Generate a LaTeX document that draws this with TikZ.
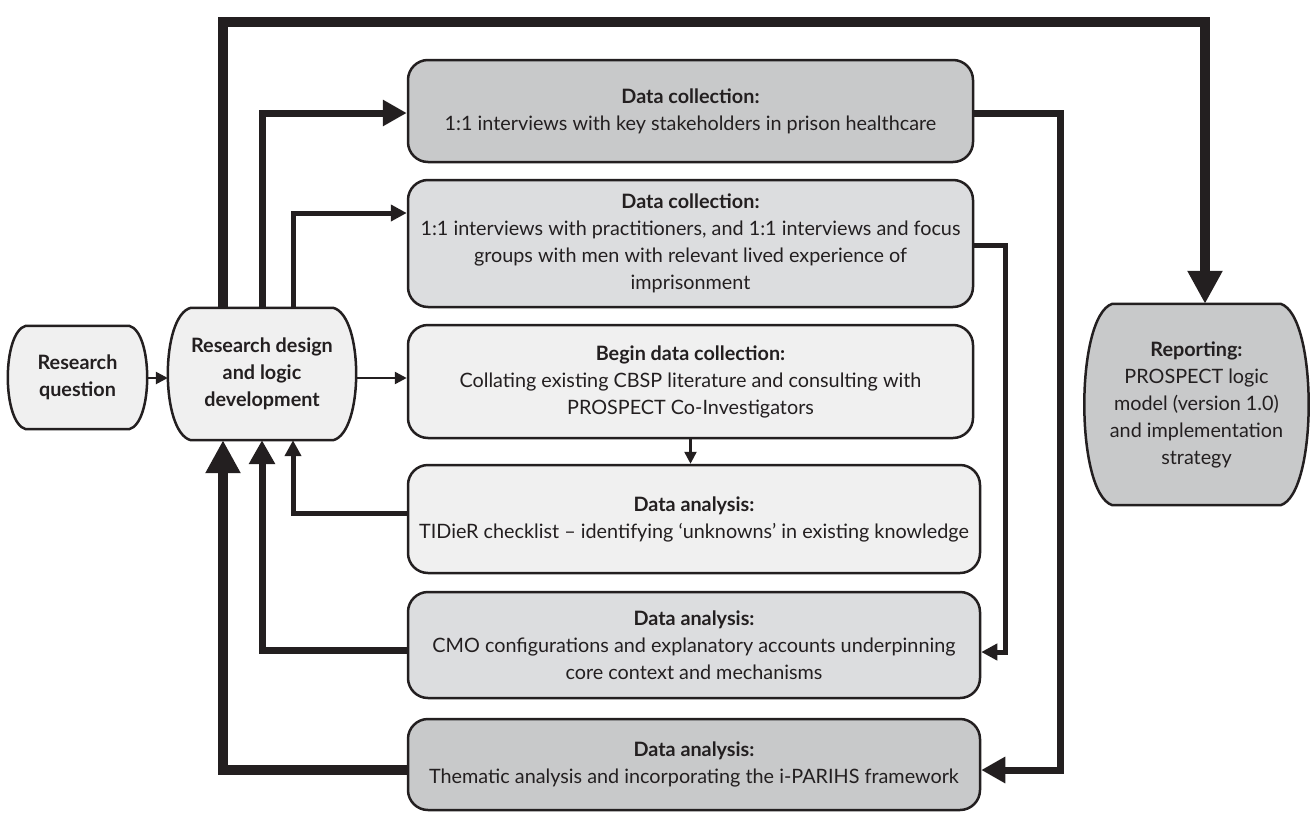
\documentclass[tikz,border=0pt]{standalone}
\usepackage{fontspec}
\setmainfont{Lato}
\usetikzlibrary{arrows.meta,calc,backgrounds}
\definecolor{ink}{HTML}{231F20}
\definecolor{gA}{HTML}{F0F0F0}
\definecolor{gB}{HTML}{DCDDDF}
\definecolor{gC}{HTML}{C8C9CA}
% pill outline drawn round a named node: #1 node, #2 bulge, #3 fill
\newcommand\pillpath[3]{%
  \path[draw=ink, line width=2.5pt, fill=#3, line join=round]
    ($(#1.north west)+({#2+6},0)$) -- ($(#1.north east)+({-#2-6},0)$)
    .. controls ($(#1.north east)!0.06!(#1.south east)+({(#2+6)/3},0)$) and ($(#1.south east)!0.06!(#1.north east)+({(#2+6)/3},0)$) .. ($(#1.south east)+({-#2-6},0)$)
    -- ($(#1.south west)+({#2+6},0)$)
    .. controls ($(#1.south west)!0.06!(#1.north west)+({-(#2+6)/3},0)$) and ($(#1.north west)!0.06!(#1.south west)+({-(#2+6)/3},0)$) .. cycle;}
\begin{document}
\begin{tikzpicture}[x=1pt,y=-1pt, font=\fontsize{19.8}{27}\selectfont, text=ink,
  box/.style={draw=ink, line width=2.5pt, rounded corners=20pt, align=center, inner sep=0pt, minimum width=565pt},
  pill/.style={rectangle, align=center, inner sep=0pt},
  fbA/.style={draw=ink, line width=10pt, -{Triangle[length=33pt,width=33pt]}},
  fbB/.style={draw=ink, line width=7pt, -{Triangle[length=24pt,width=25pt]}},
  fbC/.style={draw=ink, line width=5pt, -{Triangle[length=16pt,width=16pt]}},
  fine/.style={draw=ink, line width=2.5pt, -{Triangle[length=12pt,width=12pt]}}]
\useasboundingbox (0,0) rectangle (1310,817);

% left column
\node[pill, minimum width=139pt, minimum height=103pt] (rq) at (77.5,377.5) {\textbf{Research}\\\textbf{question}};
\node[pill, minimum width=188pt, minimum height=132pt] (rd) at (262,374) {\textbf{Research design}\\\textbf{and logic}\\\textbf{development}};

% middle column
\node[box, fill=gC, minimum height=102pt] (b1) at (690.5,111)
  {\textbf{Data collection:}\\1:1 interviews with key stakeholders in prison healthcare};
\node[box, fill=gB, minimum height=127pt] (b2) at (690.5,243.5)
  {\textbf{Data collection:}\\1:1 interviews with practitioners, and 1:1 interviews and focus\\groups with men with relevant lived experience of\\imprisonment};
\node[box, fill=gA, minimum height=113pt] (b3) at (690.5,381.5)
  {\textbf{Begin data collection:}\\Collating existing CBSP literature and consulting with\\PROSPECT Co-Investigators};
\node[box, fill=gA, minimum width=572pt, minimum height=108pt] (b4) at (694,519)
  {\textbf{Data analysis:}\\TIDieR checklist -- identifying `unknowns' in existing knowledge};
\node[box, fill=gB, minimum width=572pt, minimum height=106pt] (b5) at (694,645)
  {\textbf{Data analysis:}\\CMO configurations and explanatory accounts underpinning\\core context and mechanisms};
\node[box, fill=gC, minimum width=572pt, minimum height=91pt] (b6) at (694,764.5)
  {\textbf{Data analysis:}\\Thematic analysis and incorporating the i-PARIHS framework};

% right
\node[pill, minimum width=224pt, minimum height=201pt] (rep) at (1196.5,404.5)
  {\textbf{Reporting:}\\PROSPECT logic\\model (version 1.0)\\and implementation\\strategy};

\begin{scope}[on background layer]
  \pillpath{rq}{12}{gA}
  \pillpath{rd}{17}{gA}
  \pillpath{rep}{22}{gC}
\end{scope}

% helper coordinates
\coordinate (ya) at (0,378);
\coordinate (ta) at (1205,22);
\coordinate (tb) at (262,113);
\coordinate (tc) at (293,213);
\coordinate (l4) at (293,513);
\coordinate (l5) at (262,650);
\coordinate (l6) at (223,770);
\coordinate (r1) at (1060,113);
\coordinate (r1b) at (1060,770);
\coordinate (r2) at (1005,245);
\coordinate (r2b) at (1005,652);

% simple arrows
\draw[fine] (rq.east |- ya) -- (rd.west |- ya);
\draw[fine] (rd.east |- ya) -- (b3.west |- ya);
\draw[fine] (b3.south) -- (b4.north -| b3.south);

% top arrows from research design
\draw[fbA] (rd.north -| l6) |- (ta) -- (rep.north -| ta);
\draw[fbB] (rd.north -| tb) |- (b1.west |- tb);
\draw[fbC] (rd.north -| tc) |- (b2.west |- tc);

% feedback arrows into research design
\draw[fbA] (b6.west |- l6) -| (rd.south -| l6);
\draw[fbB] (b5.west |- l5) -| (rd.south -| l5);
\draw[fbC] (b4.west |- l4) -| (rd.south -| l4);

% right side routes
\draw[fbB] (b1.east |- r1) -| (r1b) -- (b6.east |- r1b);
\draw[fbC] (b2.east |- r2) -| (r2b) -- (b5.east |- r2b);
\end{tikzpicture}
\end{document}
